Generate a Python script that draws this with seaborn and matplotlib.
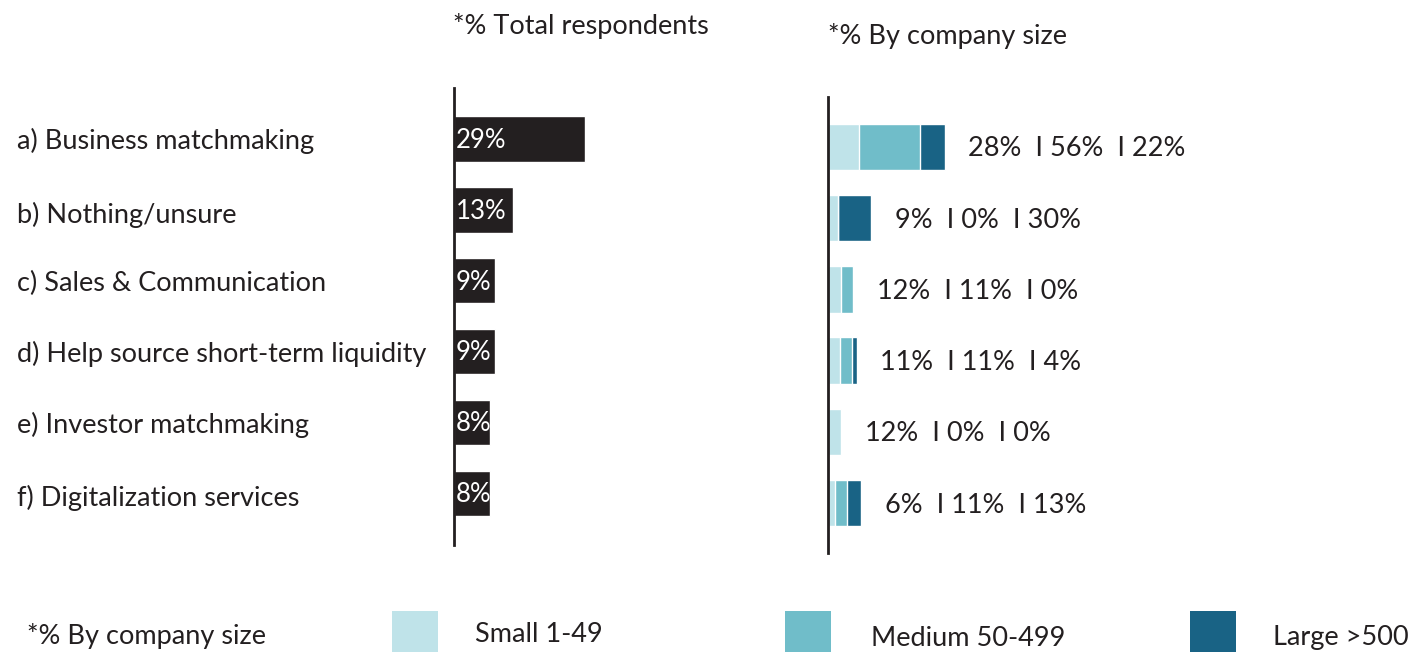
import matplotlib
matplotlib.use("Agg")
import matplotlib.pyplot as plt
from matplotlib.patches import Rectangle
import seaborn as sns
import pandas as pd

# Survey answers
categories = [
    "a) Business matchmaking",
    "b) Nothing/unsure",
    "c) Sales & Communication",
    "d) Help source short-term liquidity",
    "e) Investor matchmaking",
    "f) Digitalization services",
]
total_pct = [29, 13, 9, 9, 8, 8]

# Share by company size
small_pct = [28, 9, 12, 11, 12, 6]
medium_pct = [56, 0, 11, 11, 0, 11]
large_pct = [22, 30, 0, 4, 0, 13]

size_labels = ["Small 1-49", "Medium 50-499", "Large >500"]
size_colors = ["#BFE3E9", "#70BDC9", "#196385"]
bar_black = "#231F20"
text_color = "#231F20"

FS = 19.5

sns.set_theme(style="white")
plt.rcParams["font.family"] = ["Lato", "DejaVu Sans"]
plt.rcParams["text.color"] = text_color

W, H = 1415, 652
fig = plt.figure(figsize=(W / 100, H / 100), dpi=100)


def px_axes(x0, y_top, y_bot, width):
    return fig.add_axes([x0 / W, (H - y_bot) / H, width / W, (y_bot - y_top) / H])


# ---- Left panel: total respondents ----
left_scale = 4.5  # px per percent
ax1 = px_axes(454, 88, 545, 60 * left_scale)
df_total = pd.DataFrame({"cat": categories, "pct": total_pct})
sns.barplot(data=df_total, x="pct", y="cat", orient="h", color=bar_black,
            width=0.64, saturation=1, ax=ax1)
ax1.set_xlim(0, 60)
ax1.set_ylim(5.73, -0.72)
for i, v in enumerate(total_pct):
    ax1.annotate(f"{v}%", xy=(0, i), xytext=(1.5, -1), textcoords="offset points",
                 va="center", ha="left", color="white", fontsize=18.5)

# ---- Right panel: by company size (stacked via overlaid cumulative bars) ----
right_scale = 1.1
ax2 = px_axes(828, 97, 553, 500 * right_scale)
df_size = pd.DataFrame({"cat": categories, "small": small_pct,
                        "medium": medium_pct, "large": large_pct})
df_size["cum_small"] = df_size["small"]
df_size["cum_medium"] = df_size["small"] + df_size["medium"]
df_size["cum_large"] = df_size["cum_medium"] + df_size["large"]
for col, colr in zip(["cum_large", "cum_medium", "cum_small"], size_colors[::-1]):
    sns.barplot(data=df_size, x=col, y="cat", orient="h", color=colr,
                width=0.65, saturation=1, ax=ax2)
ax2.set_xlim(0, 500)
ax2.set_ylim(5.7, -0.7)
for i, row in df_size.iterrows():
    label = f"{row['small']}%  I {row['medium']}%  I {row['large']}%"
    ax2.annotate(label, xy=(row["cum_large"], i), xytext=(17, -1.5),
                 textcoords="offset points", va="center", ha="left",
                 fontsize=FS, color=text_color)

for ax in (ax1, ax2):
    ax.set_xlabel("")
    ax.set_ylabel("")
    ax.set_xticks([])
    ax.set_yticks([])
    for s in ("top", "right", "bottom"):
        ax.spines[s].set_visible(False)
    ax.spines["left"].set_color("#231F20")
    ax.spines["left"].set_linewidth(2)
    ax.set_facecolor("none")

# Category labels
row_y = [141, 215, 283, 354, 425, 498]
for cat, y in zip(categories, row_y):
    fig.text(17 / W, 1 - y / H, cat, fontsize=FS, va="center", ha="left")

# Panel titles
fig.text(453 / W, 1 - 26 / H, "*% Total respondents", fontsize=FS, va="center", ha="left")
fig.text(828 / W, 1 - 36 / H, "*% By company size", fontsize=FS, va="center", ha="left")

# Legend along the bottom
fig.text(27 / W, 1 - 636 / H, "*% By company size", fontsize=FS, va="center", ha="left")
sw_x = [392, 785, 1190]
txt_x = [475, 871, 1273]
txt_y = [635, 638, 638]
for sx, tx, ty, lab, colr in zip(sw_x, txt_x, txt_y, size_labels, size_colors):
    fig.add_artist(Rectangle((sx / W, 0), 46 / W, 41 / H, transform=fig.transFigure,
                             facecolor=colr, edgecolor="none"))
    fig.text(tx / W, 1 - ty / H, lab, fontsize=FS, va="center", ha="left")

fig.savefig("out.png", dpi=100, facecolor="white")
